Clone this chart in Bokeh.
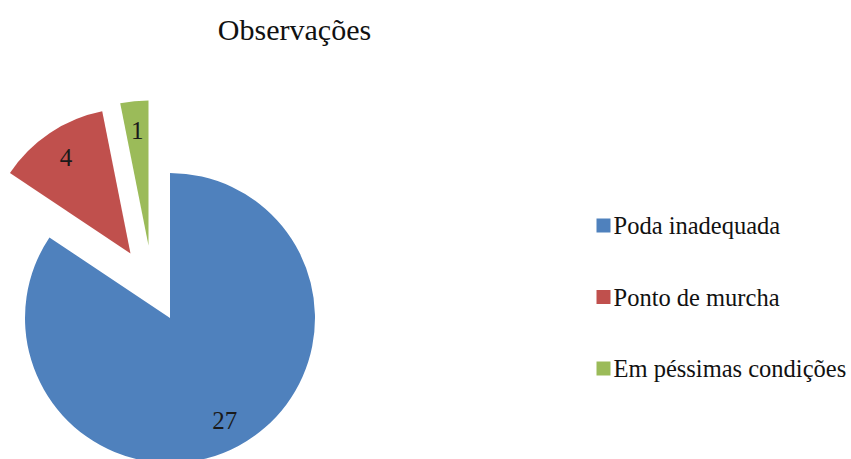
import numpy as np
from bokeh.plotting import figure
from bokeh.models import Range1d, ColumnDataSource
from bokeh.core.properties import value
from bokeh.embed import file_html
from bokeh.resources import INLINE

# ---- data ----
categories = ["Poda inadequada", "Ponto de murcha", "Em péssimas condições"]
counts = [27, 4, 1]
colors = ["#4F81BD", "#C0504D", "#9BBB59"]
title_text = "Observações"

# ---- layout (pixel units inside the figure, y up) ----
W, H = 851, 459
CX, CY, R = 169.5, 141.5, 145.0
explode_dx = [0.0, -39.5, -21.5]
explode_dy = [0.0, 64.5, 72.5]
LABEL_F = 0.8
FONT = '"Liberation Serif", "Times New Roman", serif'

p = figure(width=W, height=H, x_range=Range1d(0, W), y_range=Range1d(0, H),
           output_backend="svg", toolbar_location=None, min_border=0)
p.axis.visible = False
p.grid.visible = False
p.outline_line_color = None
p.background_fill_color = "white"
p.border_fill_color = "white"

vals = np.array(counts, dtype=float)
frac = vals / vals.sum()
cum_end = np.cumsum(frac)
cum_start = cum_end - frac
a_start = np.pi / 2 - 2 * np.pi * cum_end      # anticlockwise start
a_end = np.pi / 2 - 2 * np.pi * cum_start
mid = (a_start + a_end) / 2
xs = CX + np.array(explode_dx)
ys = CY + np.array(explode_dy)

src = ColumnDataSource(dict(x=xs, y=ys, start=a_start, end=a_end, color=colors,
                            lx=xs + LABEL_F * R * np.cos(mid),
                            ly=ys + LABEL_F * R * np.sin(mid),
                            label=[str(c) for c in counts]))
p.wedge(x="x", y="y", radius=R, start_angle="start", end_angle="end",
        direction="anticlock", fill_color="color", line_color=None, source=src)
p.text(x="lx", y="ly", text="label", source=src, text_font=value(FONT),
       text_font_size="25px", text_align="center", text_baseline="middle",
       text_color="#1a1a1a")

# title
p.text(x=[294], y=[430], text=[title_text], text_font=value(FONT),
       text_font_size="30px", text_align="center", text_baseline="middle",
       text_color="#111111")

# legend
LEG_X, LEG_Y0, LEG_DY = 603, 234, 71.5
ly = [LEG_Y0 - i * LEG_DY for i in range(len(categories))]
p.scatter(x=[LEG_X] * len(categories), y=ly, marker="square", size=14,
          fill_color=colors, line_color=None)
p.text(x=[LEG_X + 10] * len(categories), y=ly, text=categories,
       text_font=value(FONT), text_font_size="24.5px", text_align="left",
       text_baseline="middle", text_color="#111111")

open("out.html", "w").write(file_html(p, INLINE))
